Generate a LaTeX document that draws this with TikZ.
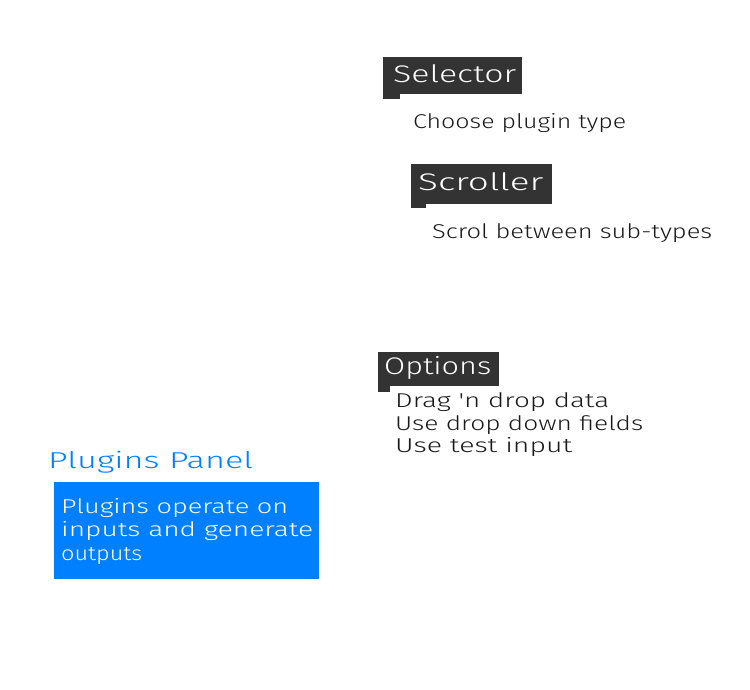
\documentclass[tikz,border=0pt]{standalone}
\usepackage{fontspec}
\setmainfont{Fira Sans}
\newfontfamily\hwfont{Fira Sans Light}
\definecolor{darkbox}{HTML}{333333}
\definecolor{panelblue}{HTML}{0080FF}
\definecolor{ink}{HTML}{1A1A1A}
\newcommand\hwfit[2]{\resizebox{#1pt}{\height}{#2}}
\begin{document}
\begin{tikzpicture}[x=1pt,y=-1pt,
  bodytxt/.style={anchor=base west, inner sep=0pt, font=\hwfont\fontsize{20}{22}\selectfont, text=ink},
  boxlbl/.style={anchor=base west, inner sep=0pt, font=\hwfont\fontsize{24}{26}\selectfont, text=white},
  darktag/.style={fill=darkbox},
  paneltxt/.style={anchor=base west, inner sep=0pt, font=\hwfont\fontsize{20}{22}\selectfont, text=white}]
\useasboundingbox (0,0) rectangle (750,690);
% Selector
\fill[darktag] (383,57) rectangle (522,94);
\fill[darktag] (383,93) rectangle (400,99);
\node[boxlbl] (selector) at (393,83) {\hwfit{123}{Selector}};
\node[bodytxt] (choose) at (413,129) {\hwfit{213}{Choose plugin type}};
% Scroller
\fill[darktag] (411,164) rectangle (552,204);
\fill[darktag] (411,203) rectangle (426,208);
\node[boxlbl] (scroller) at (418,191) {\hwfit{125}{Scroller}};
\node[bodytxt] (scrol) at (432,238) {\hwfit{280}{Scrol between sub-types}};
% Options
\fill[darktag] (378,352) rectangle (499,386);
\fill[darktag] (378,385) rectangle (390,392);
\node[boxlbl] (options) at (384,374) {\hwfit{107}{Options}};
\node[bodytxt] (opt1) at (395,407) {\hwfit{214}{Drag 'n drop data}};
\node[bodytxt] (opt2) at (395,430) {\hwfit{248}{Use drop down fields}};
\node[bodytxt] (opt3) at (395,452) {\hwfit{177}{Use test input}};
% Plugins panel
\node[anchor=base west, inner sep=0pt, font=\hwfont\fontsize{23}{26}\selectfont, text=panelblue] (paneltitle) at (48,468) {\hwfit{205}{Plugins Panel}};
\fill[panelblue] (54,482) rectangle (319,579);
\node[paneltxt] (pl1) at (61,513) {\hwfit{227}{Plugins operate on}};
\node[paneltxt] (pl2) at (61,536) {\hwfit{252}{inputs and generate}};
\node[paneltxt] (pl3) at (61,560) {\hwfit{81}{outputs}};
\end{tikzpicture}
\end{document}
